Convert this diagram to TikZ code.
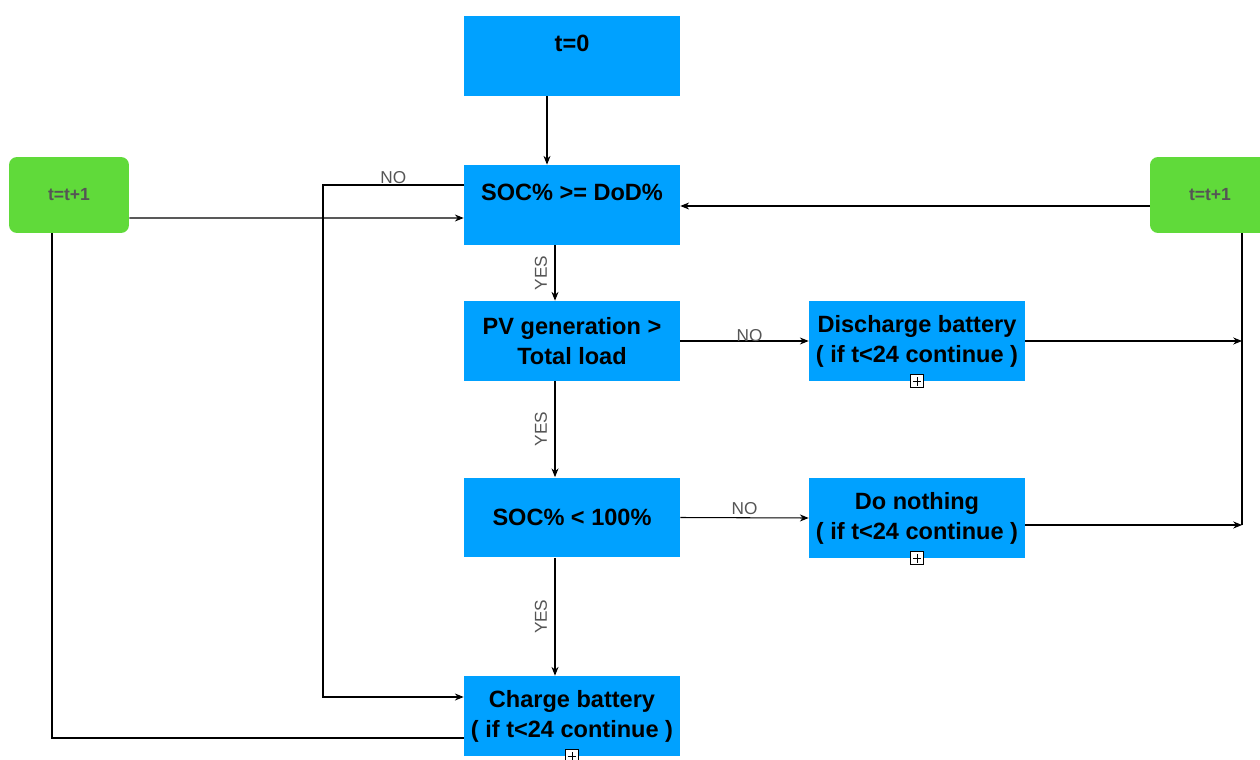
\documentclass[tikz,border=0pt]{standalone}
\usepackage{fontspec}
\setmainfont{Liberation Sans}
\usetikzlibrary{arrows.meta,calc}
\definecolor{boxblue}{RGB}{0,161,255}
\definecolor{boxgreen}{RGB}{96,218,58}
\definecolor{lblgrey}{RGB}{85,85,85}
\begin{document}
\begin{tikzpicture}[x=0.02cm,y=-0.02cm,
  bluebox/.style={fill=boxblue, minimum width=4.32cm, minimum height=1.6cm, inner sep=0pt, align=center, font=\fontsize{13.4}{17}\selectfont\bfseries},
  greenbox/.style={fill=boxgreen, rounded corners=0.16cm, minimum width=2.4cm, minimum height=1.52cm, inner sep=0pt, text=lblgrey, font=\fontsize{10}{12}\selectfont\bfseries},
  txt/.style={inner sep=0pt, font=\fontsize{13.4}{17}\selectfont\bfseries},
  lbl/.style={inner sep=0.5pt, text=lblgrey, font=\fontsize{9.8}{11}\selectfont},
  conn/.style={line width=0.6pt, draw=black},
  arr/.style={conn, -{Stealth[length=5pt,width=4pt]}},
  collapse/.style={draw=black, fill=white, line width=0.5pt, minimum size=0.26cm, inner sep=0pt,
    path picture={\draw[line width=0.5pt] ([yshift=-1.3pt]path picture bounding box.north) -- ([yshift=1.3pt]path picture bounding box.south);
                  \draw[line width=0.5pt] ([xshift=1.3pt]path picture bounding box.west) -- ([xshift=-1.3pt]path picture bounding box.east);}}
]
\useasboundingbox[fill=white] (0,0) rectangle (1260,760);

% boxes
\node[bluebox] (t0) at (572,56) {};
\node[txt] (t0t) at (572,43) {t=0};
\node[bluebox] (soc) at (572,205) {};
\node[txt] (soct) at (572,192) {SOC\% >= DoD\%};
\node[bluebox] (pv) at (572,341) {PV generation >\\Total load};
\node[bluebox] (socl) at (572,517.5) {SOC\% < 100\%};
\node[bluebox] (chg) at (572,716) {Charge battery\\( if t<24 continue )};
\node[bluebox] (dis) at (917,341) {Discharge battery\\( if t<24 continue )};
\node[bluebox] (nth) at (917,518) {Do nothing\\( if t<24 continue )};
\node[greenbox] (gl) at (69,195) {t=t+1};
\node[greenbox] (gr) at (1210,195) {t=t+1};

% collapse icons
\node[collapse] (ic1) at (dis.south) {};
\node[collapse] (ic2) at (nth.south) {};
\node[collapse] (ic3) at (chg.south) {};

% main flow
\draw[arr] ([xshift=-0.5cm]t0.south) -- ([xshift=-0.5cm]soc.north);
\draw[arr] ([xshift=-0.34cm]soc.south) -- ([xshift=-0.34cm]pv.north);
\draw[arr] ([xshift=-0.34cm]pv.south) -- ([xshift=-0.34cm]socl.north);
\draw[arr] ([xshift=-0.34cm]socl.south) -- ([xshift=-0.34cm]chg.north);
\path ($(soc.south)!.5!(pv.north)$) ++(-31,0) node[lbl,rotate=90] (y1) {YES};
\path ($(pv.south)!.5!(socl.north)$) ++(-31,0) node[lbl,rotate=90] (y2) {YES};
\path ($(socl.south)!.5!(chg.north)$) ++(-31,0) node[lbl,rotate=90] (y3) {YES};

\draw[arr] (pv.east) -- node[lbl, midway, above=-1pt, xshift=0.1cm] (n1) {NO} (dis.west);
\draw[arr] (socl.east) -- node[lbl, midway, above=1pt] (n2) {NO} (nth.west);

% NO branch from SOC >= DoD
\coordinate (c323) at (323,400);
\draw[arr] ([yshift=0.4cm]soc.west) -| node[lbl, pos=0.25, above=0pt] (n3) {NO} (c323) |- ([yshift=0.38cm]chg.west);

% left green loop
\draw[arr] ([yshift=-0.46cm]gl.east) -- ([yshift=-0.26cm]soc.west);
\draw[conn] ([yshift=-0.44cm]chg.west) -| ([xshift=-0.34cm]gl.south);

% right green loop
\coordinate (grw) at ([yshift=-0.22cm]gr.west);
\draw[arr] (grw) -- (grw -| soc.east);
\coordinate (grs) at ([xshift=0.64cm]gr.south);
\coordinate (nthe) at ([yshift=-0.14cm]nth.east);
\draw[conn] (grs) -- (grs |- nthe);
\draw[arr] (nthe) -- (nthe -| grs);
\draw[arr] (dis.east) -- (dis.east -| grs);
\end{tikzpicture}
\end{document}
